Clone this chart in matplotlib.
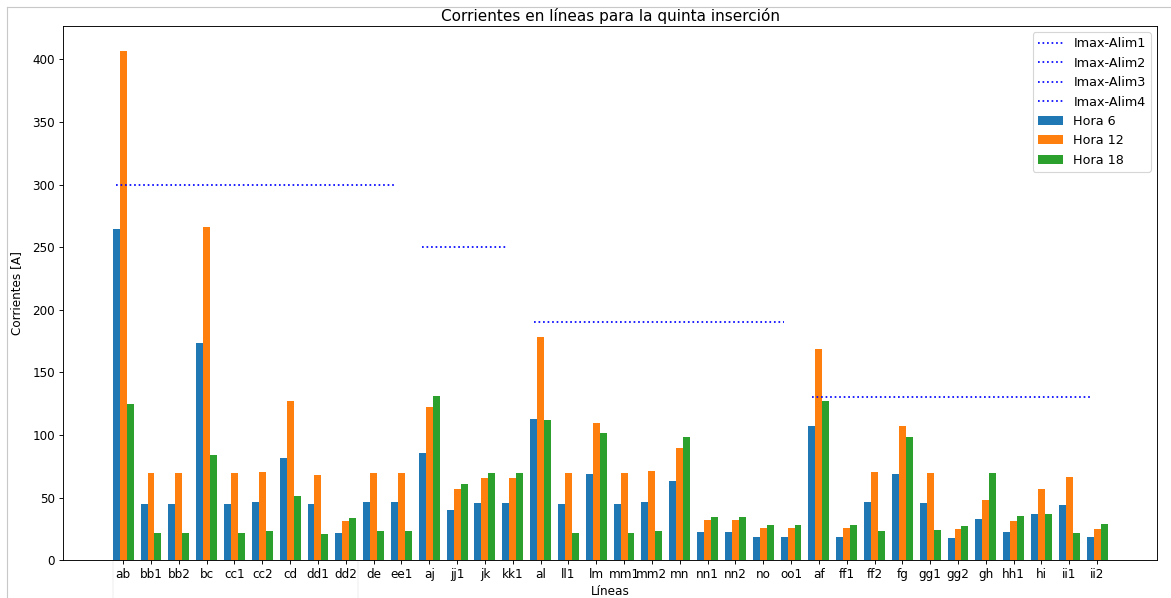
import matplotlib
matplotlib.use("Agg")
import matplotlib.pyplot as plt
import numpy as np
from matplotlib.patches import FancyBboxPatch
from matplotlib.lines import Line2D

# nombres de las lineas
lineas = ["ab", "bb1", "bb2", "bc", "cc1", "cc2", "cd", "dd1", "dd2", "de", "ee1",
          "aj", "jj1", "jk", "kk1",
          "al", "ll1", "lm", "mm1", "mm2", "mn", "nn1", "nn2", "no", "oo1",
          "af", "ff1", "ff2", "fg", "gg1", "gg2", "gh", "hh1", "hi", "ii1", "ii2"]

# corrientes por hora [A]
hora6 = [264.4, 45.3, 45.3, 173.3, 45.3, 46.6, 81.7, 44.7, 21.8, 46.6, 46.6,
         85.7, 40.2, 46.1, 46.1,
         112.9, 45.3, 69.0, 45.3, 46.6, 63.1, 22.4, 22.4, 18.4, 18.4,
         107.6, 18.4, 46.6, 69.0, 46.1, 17.8, 33.0, 22.4, 37.3, 44.2, 18.4]
hora12 = [406.3, 70.0, 70.0, 266.0, 69.5, 70.6, 127.0, 68.2, 31.4, 70.0, 70.0,
          122.2, 56.7, 65.8, 65.8,
          177.9, 70.0, 109.4, 69.5, 71.1, 90.0, 32.0, 32.0, 25.8, 25.8,
          168.6, 25.8, 70.6, 107.6, 70.0, 24.8, 48.2, 31.4, 57.3, 66.6, 25.3]
hora18 = [124.6, 21.8, 21.8, 84.1, 21.8, 23.7, 51.1, 21.3, 34.1, 23.7, 23.7,
          131.0, 60.7, 70.0, 70.0,
          111.8, 21.8, 102.0, 21.8, 23.7, 98.3, 34.6, 34.6, 28.2, 28.2,
          127.5, 28.2, 23.7, 98.3, 24.2, 27.7, 69.5, 35.4, 37.0, 21.8, 29.0]

# limites de corriente por alimentador: (valor, primera linea, ultima linea)
imax = [300, 250, 190, 130]
alim_ini = [0, 11, 15, 25]
alim_fin = [10, 14, 24, 35]
alim_nombres = ["Imax-Alim1", "Imax-Alim2", "Imax-Alim3", "Imax-Alim4"]

w = 0.25
x = np.arange(len(lineas))

fig = plt.figure(figsize=(1171 / 82, 598 / 82), dpi=82)
ax = fig.add_axes([63 / 1171, 1 - 560.3 / 598, (1157.3 - 63) / 1171, (560.3 - 26) / 598])

for v, i0, i1, nom in zip(imax, alim_ini, alim_fin, alim_nombres):
    ax.plot([x[i0] - w, x[i1] - w], [v, v], "b:", label=nom)

ax.bar(x - w, hora6, w, label="Hora 6")
ax.bar(x, hora12, w, label="Hora 12")
ax.bar(x + w, hora18, w, label="Hora 18")

ax.set_xticks(x)
ax.set_xticklabels(lineas, fontsize=10.5)
ax.tick_params(axis="y", labelsize=10.5)
ax.set_xlabel("Líneas", fontsize=10.5, labelpad=3)
ax.set_ylabel("Corrientes [A]", fontsize=10.5, labelpad=8)
ax.set_title("Corrientes en líneas para la quinta inserción", fontsize=13.4, pad=4)
ax.legend(loc="upper right", fontsize=11.2)

# marco gris de la celda y recuadro tenue de abajo
fig.add_artist(Line2D([7 / 1171, 1], [1 - 7 / 598, 1 - 7 / 598], color="#c8c8c8", lw=1))
fig.add_artist(Line2D([7 / 1171, 7 / 1171], [0, 1 - 7 / 598], color="#c8c8c8", lw=1))
caja = FancyBboxPatch((113 / 1171, -0.05), 245 / 1171, (0.05 + 1 - 498 / 598),
                      boxstyle="round,pad=0,rounding_size=0.01",
                      transform=fig.transFigure, facecolor="none",
                      edgecolor="#f2f2f2", lw=1.2, zorder=0)
fig.add_artist(caja)

fig.savefig("out.png", dpi=82)
